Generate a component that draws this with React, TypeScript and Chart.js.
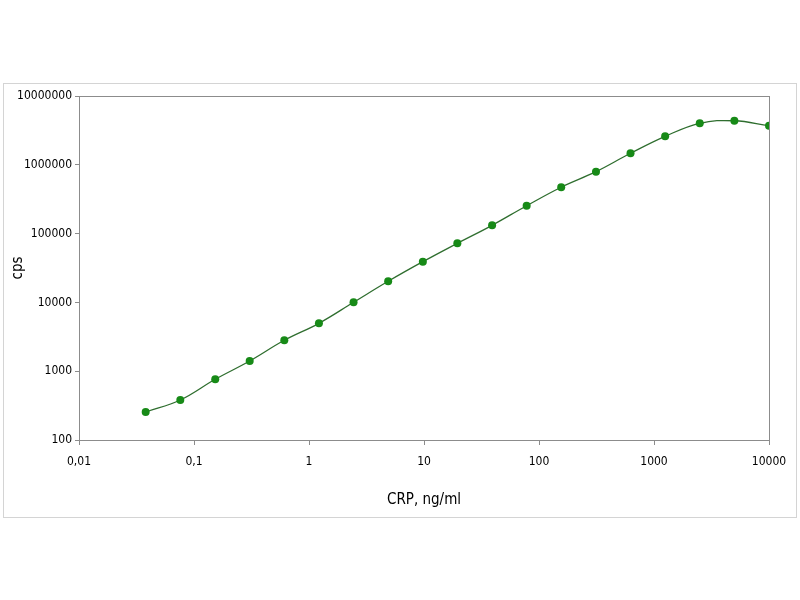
import React, { useEffect, useRef } from "react";
import { Chart, registerables } from "chart.js";

Chart.register(...registerables);

const concentrations = [
  0.038, 0.076, 0.153, 0.305, 0.61, 1.22, 2.44, 4.88, 9.77, 19.5, 39.1, 78.1,
  156, 313, 625, 1250, 2500, 5000, 10000,
];
const cpsValues = [
  255, 381, 763, 1407, 2813, 4966, 10030, 20270, 39080, 72300, 132000, 254000,
  472000, 794000, 1470000, 2590000, 4010000, 4370000, 3700000,
];
const xTickValues = [0.01, 0.1, 1, 10, 100, 1000, 10000];
const xTickLabels = ["0,01", "0,1", "1", "10", "100", "1000", "10000"];
const yTickValues = [100, 1000, 10000, 100000, 1000000, 10000000];
const yTickLabels = ["100", "1000", "10000", "100000", "1000000", "10000000"];

const FONT = "'Liberation Sans Narrow', 'DejaVu Sans Condensed', 'Open Sans', sans-serif";

const framePlugin = {
  id: "frame",
  beforeDraw(chart: any) {
    const ctx = chart.ctx;
    ctx.save();
    ctx.fillStyle = "#ffffff";
    ctx.fillRect(0, 0, chart.width, chart.height);
    ctx.strokeStyle = "#d4d4d4";
    ctx.lineWidth = 1;
    ctx.strokeRect(3.5, 83.5, 793, 434);
    ctx.restore();
  },
  beforeDatasetsDraw(chart: any) {
    const { ctx, chartArea } = chart;
    ctx.save();
    ctx.strokeStyle = "#8c8c8c";
    ctx.lineWidth = 1;
    ctx.strokeRect(
      Math.round(chartArea.left) + 0.5,
      Math.round(chartArea.top) + 0.5,
      Math.round(chartArea.right - chartArea.left),
      Math.round(chartArea.bottom - chartArea.top)
    );
    ctx.restore();
  },
};

export default function App() {
  const canvasRef = useRef<HTMLCanvasElement | null>(null);

  useEffect(() => {
    if (!canvasRef.current) return;
    const chart = new Chart(canvasRef.current, {
      type: "line",
      data: {
        datasets: [
          {
            data: concentrations.map((x, i) => ({ x, y: cpsValues[i] })),
            borderColor: "#2f6e2f",
            borderWidth: 1.3,
            backgroundColor: "#178a17",
            pointBackgroundColor: "#178a17",
            pointBorderColor: "#178a17",
            pointRadius: 4,
            pointBorderWidth: 0,
            tension: 0.4,
            fill: false,
          },
        ],
      },
      options: {
        animation: false,
        responsive: false,
        maintainAspectRatio: false,
        layout: { padding: { top: 96, right: 31, left: 4, bottom: 82 } },
        plugins: {
          legend: { display: false },
          tooltip: { enabled: false },
        },
        scales: {
          x: {
            type: "logarithmic",
            min: 0.01,
            max: 10000,
            afterBuildTicks: (scale: any) => {
              scale.ticks = xTickValues.map((v) => ({ value: v }));
            },
            afterFit: (scale: any) => {
              scale.height = 78;
            },
            ticks: {
              autoSkip: false,
              maxRotation: 0,
              padding: 10,
              color: "#000000",
              font: { family: FONT, size: 12 },
              callback: (value: any) => {
                const i = xTickValues.indexOf(Number(value));
                return i >= 0 ? xTickLabels[i] : null;
              },
            },
            grid: {
              drawOnChartArea: false,
              drawTicks: true,
              tickLength: 5,
              color: "#8c8c8c",
            },
            border: { display: true, color: "#8c8c8c" },
            title: {
              display: true,
              text: "CRP, ng/ml",
              color: "#000000",
              font: { family: FONT, size: 15 },
              padding: { top: 0, bottom: 9 },
            },
          },
          y: {
            type: "logarithmic",
            min: 100,
            max: 10000000,
            afterBuildTicks: (scale: any) => {
              scale.ticks = yTickValues.map((v) => ({ value: v }));
            },
            afterFit: (scale: any) => {
              scale.width = 75;
            },
            ticks: {
              autoSkip: false,
              padding: 3,
              color: "#000000",
              font: { family: FONT, size: 12 },
              callback: (value: any) => {
                const i = yTickValues.indexOf(Number(value));
                return i >= 0 ? yTickLabels[i] : null;
              },
            },
            grid: {
              drawOnChartArea: false,
              drawTicks: true,
              tickLength: 4,
              color: "#8c8c8c",
            },
            border: { display: true, color: "#8c8c8c" },
            title: {
              display: true,
              text: "cps",
              color: "#000000",
              font: { family: FONT, size: 15 },
              padding: { top: 5, bottom: 0 },
            },
          },
        },
      },
      plugins: [framePlugin],
    });
    return () => chart.destroy();
  }, []);

  return (
    <div style={{ position: "absolute", left: 0, top: 0, width: 800, height: 600, background: "#fff" }}>
      <canvas ref={canvasRef} width={800} height={600} style={{ width: 800, height: 600 }} />
    </div>
  );
}
